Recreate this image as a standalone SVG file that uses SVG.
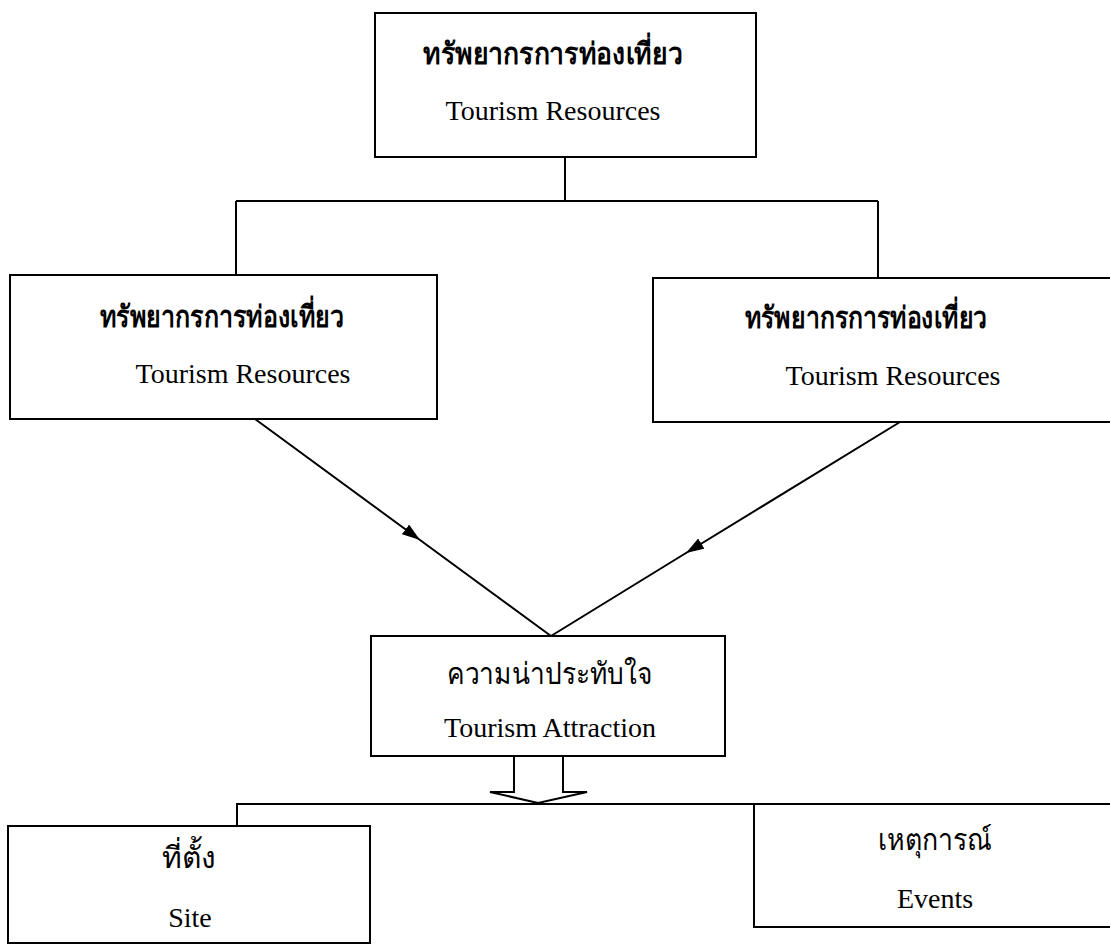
<svg xmlns="http://www.w3.org/2000/svg" width="1110" height="945" viewBox="0 0 1110 945">
<style>
.box{fill:#fff;stroke:#000;stroke-width:2}
.ln{fill:none;stroke:#000;stroke-width:2}
.en{font-family:"Liberation Serif","Times New Roman",serif;font-size:28px;fill:#000;text-anchor:middle}
.th{font-family:"Liberation Serif","Noto Sans","DejaVu Sans",serif;font-size:30px;fill:#000;text-anchor:middle}
.b{font-weight:bold}
</style>
<defs>
<marker id="ah" viewBox="0 0 18 12" refX="18" refY="6" markerWidth="18" markerHeight="12" markerUnits="userSpaceOnUse" orient="auto">
<path d="M0,0 L18,6 L0,12 z" fill="#000"/>
</marker>
</defs>
<rect width="1110" height="945" fill="#fff"/>
<g id="connectors">
<path class="ln" d="M565,157 V201 M236,201 H878 M236,201 V275 M878,201 V278"/>
<path class="ln" d="M255,419 L420,540 L551,636" style="marker-mid:url(#ah)"/>
<path class="ln" d="M900,422 L686,553 L551,636" style="marker-mid:url(#ah)"/>
<path class="ln" d="M237,826 V804 H1110"/>
<path class="ln" d="M885,804 V827"/>
<polygon class="box" points="514,756 514,792 490,792 538,803 587,792 563,792 563,756"/>
</g>
<g id="top">
<rect class="box" x="375" y="13" width="381" height="144"/>
<text class="th b" x="553" y="64" textLength="260" lengthAdjust="spacingAndGlyphs">ทรัพยากรการท่องเที่ยว</text>
<text class="en" x="553" y="120">Tourism Resources</text>
</g>
<g id="left">
<rect class="box" x="10" y="275" width="427" height="144"/>
<text class="th b" x="222" y="327" textLength="245" lengthAdjust="spacingAndGlyphs">ทรัพยากรการท่องเที่ยว</text>
<text class="en" x="243" y="383">Tourism Resources</text>
</g>
<g id="right">
<rect class="box" x="653" y="278" width="470" height="144"/>
<text class="th b" x="866" y="328" textLength="243" lengthAdjust="spacingAndGlyphs">ทรัพยากรการท่องเที่ยว</text>
<text class="en" x="893" y="385">Tourism Resources</text>
</g>
<g id="attraction">
<rect class="box" x="371" y="636" width="354" height="120"/>
<text class="th" x="550" y="684" textLength="206" lengthAdjust="spacingAndGlyphs">ความน่าประทับใจ</text>
<text class="en" x="550" y="737">Tourism Attraction</text>
</g>
<g id="site">
<rect class="box" x="8" y="826" width="362" height="117"/>
<text class="th" x="189" y="868">ที่ตั้ง</text>
<text class="en" x="190" y="927">Site</text>
</g>
<g id="events">
<rect class="box" x="754" y="804" width="370" height="123"/>
<text class="th" x="935" y="850" textLength="114" lengthAdjust="spacingAndGlyphs">เหตุการณ์</text>
<text class="en" x="935" y="908">Events</text>
</g>
</svg>
